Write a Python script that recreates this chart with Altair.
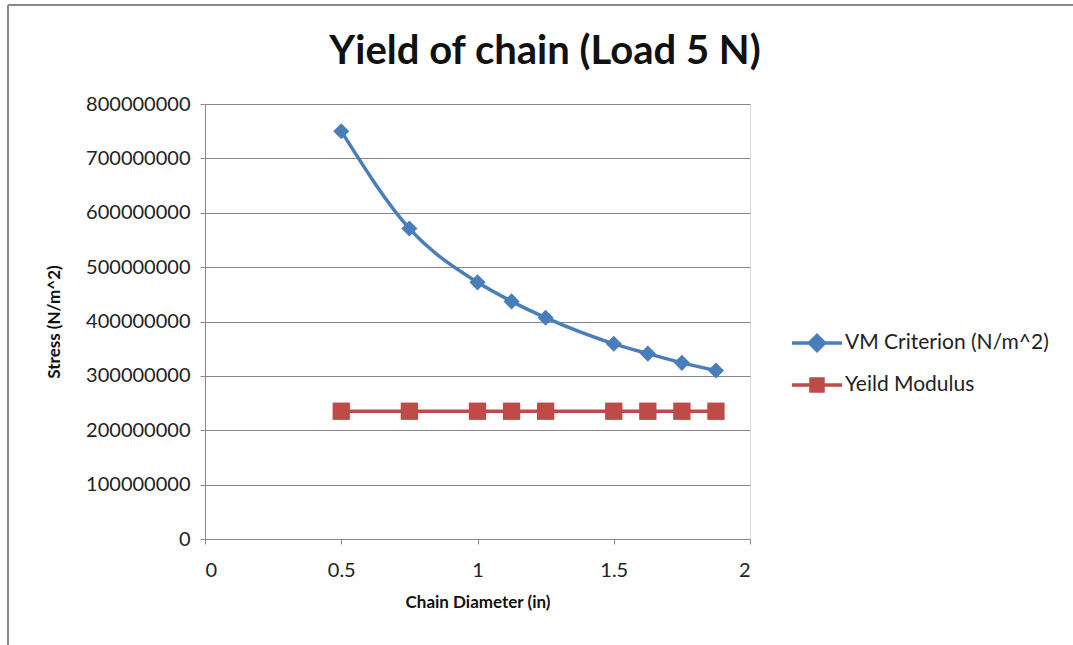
import altair as alt
import pandas as pd

diameter = [0.5, 0.75, 1.0, 1.125, 1.25, 1.5, 1.625, 1.75, 1.875]
vm_stress = [750e6, 571e6, 472e6, 437e6, 407e6, 359e6, 341e6, 324e6, 310e6]
yield_mod = [235e6] * 9
series_names = ["VM Criterion (N/m^2)", "Yeild Modulus"]
colors = ["#4a7ebb", "#be4b48"]
title_text = "Yield of chain (Load 5 N)"

rows = []
for d, v in zip(diameter, vm_stress):
    rows.append({"d": d, "s": v, "series": series_names[0]})
for d, v in zip(diameter, yield_mod):
    rows.append({"d": d, "s": v, "series": series_names[1]})
df = pd.DataFrame(rows)

FONT = "Lato"
W, H = 545, 435
PL, PT = 205, 104
PR, PB = 1073 - PL - W, 645 - PT - H

# legend symbols: a line segment with a (stroke-filled) marker in the middle
sym_diamond = ("M-1,0H1"
               "M0,-0.3L0.3,0L0,0.3L-0.3,0Z"
               "M0,-0.18L0.18,0L0,0.18L-0.18,0Z"
               "M0,-0.06L0.06,0L0,0.06L-0.06,0Z")
sym_square = ("M-1,0H1"
              "M-0.24,-0.24H0.24V0.24H-0.24Z"
              "M-0.13,-0.13H0.13V0.13H-0.13Z"
              "M-0.03,-0.03H0.03V0.03H-0.03Z")

leg = alt.Legend(title=None, orient="none", legendX=585, legendY=212,
                 labelFontSize=21, labelFont=FONT, labelColor="#222", labelLimit=0,
                 symbolSize=2500, symbolStrokeWidth=3.5, rowPadding=-7, labelOffset=1)

cscale = alt.Scale(domain=series_names, range=colors)
color_leg = alt.Color("series:N", scale=cscale, legend=leg)
shape_leg = alt.Shape("series:N", scale=alt.Scale(domain=series_names, range=[sym_diamond, sym_square]),
                      legend=leg)

x = alt.X("d:Q", scale=alt.Scale(domain=[0, 2]),
          axis=alt.Axis(values=[0, 0.5, 1, 1.5, 2], format="~g", title="Chain Diameter (in)", grid=False,
                        labelFontSize=20, labelFont=FONT, labelColor="#222", labelPadding=16,
                        titleFont=FONT, titleFontSize=17, titleFontWeight="bold", titlePadding=14,
                        titleColor="#111", domainColor="#888", tickColor="#888", tickSize=5))
y = alt.Y("s:Q", scale=alt.Scale(domain=[0, 800e6]),
          axis=alt.Axis(values=[i * 100e6 for i in range(9)], format="d", title="Stress (N/m^2)",
                        labelFontSize=20, labelFont=FONT, labelColor="#222", labelPadding=10,
                        titleFont=FONT, titleFontSize=17, titleFontWeight="bold", titlePadding=22,
                        titleColor="#111", gridColor="#888", domainColor="#888", tickColor="#888",
                        tickSize=5))

vm_df = df[df.series == series_names[0]]
yl_df = df[df.series == series_names[1]]

# legend carrier: its points are pushed outside the x domain and clipped; only the legend shows
legend_carrier = alt.Chart(df).transform_calculate(dd="datum.d + 100").mark_point(
    filled=False, opacity=1, strokeWidth=3.5, clip=True).encode(
    x=alt.X("dd:Q", scale=alt.Scale(domain=[0, 2])), y=y, color=color_leg, shape=shape_leg)

vm_line = alt.Chart(vm_df).mark_line(interpolate="monotone", strokeWidth=3.5).encode(
    x=x, y=y, color=color_leg)
yl_line = alt.Chart(yl_df).mark_line(strokeWidth=3.5).encode(x=x, y=y, color=color_leg)
vm_pts = alt.Chart(vm_df).mark_point(shape="diamond", size=260, filled=True, opacity=1).encode(
    x=x, y=y, color=color_leg)
yl_pts = alt.Chart(yl_df).mark_point(shape="square", size=300, filled=True, opacity=1).encode(
    x=x, y=y, color=color_leg)

frame_v = alt.Chart(df).mark_rule(color="#888", strokeWidth=2, clip=False).encode(
    x=alt.value(8 - PL), y=alt.value(5 - PT), y2=alt.value(H + PB + 10))
frame_h = alt.Chart(df).mark_rule(color="#888", strokeWidth=2, clip=False).encode(
    x=alt.value(8 - PL), x2=alt.value(W + PR + 10), y=alt.value(5 - PT))
title_mark = alt.Chart(pd.DataFrame({"t": [title_text]})).mark_text(
    font=FONT, fontSize=40, fontWeight="bold", color="#111", baseline="middle", align="center"
).encode(text="t:N", x=alt.value(545 - PL), y=alt.value(52 - PT))

chart = alt.layer(legend_carrier, frame_v, frame_h, title_mark, vm_line, yl_line, vm_pts, yl_pts
                  ).properties(
    width=W, height=H,
    padding={"left": PL, "top": PT, "right": PR, "bottom": PB},
    autosize=alt.AutoSizeParams(type="none"),
).configure_view(stroke=None).configure(background="white")

chart.save("out.html", embed_options={"renderer": "svg", "actions": False})
